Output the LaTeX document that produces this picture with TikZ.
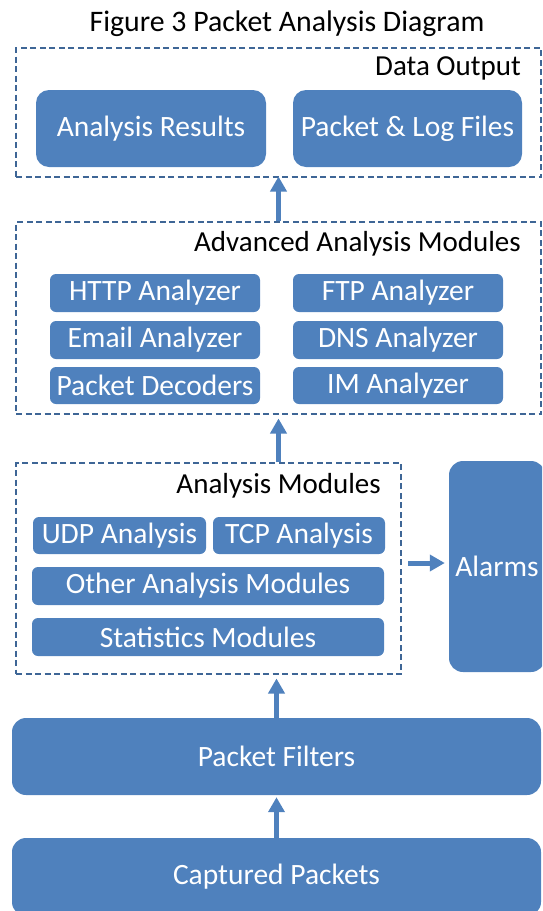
\documentclass[tikz,border=0pt]{standalone}
\usepackage{fontspec}
\setmainfont{Carlito}
\usetikzlibrary{arrows.meta}
\definecolor{boxblue}{HTML}{4F81BD}
\definecolor{frameblue}{HTML}{3E6696}
\tikzset{
  box/.style={fill=boxblue,text=white,inner sep=0pt,font=\fontsize{29.5}{32}\selectfont},
  frame/.style={draw=frameblue,line width=2pt,dash pattern=on 6pt off 3.5pt,inner sep=0pt},
  grouplabel/.style={anchor=base east,inner sep=0pt,font=\fontsize{29}{32}\selectfont},
  uparrow/.style={draw=boxblue,line width=5pt,-{Triangle[width=16pt,length=15pt]}},
}
\def\pbox#1#2#3#4#5#6#7{
  % 1: name
  % 2: x left
  % 3: y top
  % 4: x right
  % 5: y bottom
  % 6: corner radius
  % 7: text
  \node[box,rounded corners=#6,minimum width={(#4-#2)*1pt},minimum height={(#5-#3)*1pt}]
    (#1) at ({(#2+#4)/2},{(#3+#5)/2}) {#7};
}
\def\pgroup#1#2#3#4#5#6#7{
  % 1: name
  % 2: x left
  % 3: y top
  % 4: x right
  % 5: y bottom
  % 6: label baseline
  % 7: label
  \node[frame,minimum width={(#4-#2)*1pt},minimum height={(#5-#3)*1pt}]
    (#1) at ({(#2+#4)/2},{(#3+#5)/2}) {};
  \node[grouplabel] (#1-label) at (#4-20,#6) {#7};
}
\begin{document}
\begin{tikzpicture}[x=1pt,y=-1pt]
    \useasboundingbox (0,0) rectangle (542,911);
    \clip (0,0) rectangle (542,911);
    \node[anchor=base,inner sep=0pt,font=\fontsize{29.8}{32}\selectfont] (title) at (287,31) {Figure 3 Packet Analysis Diagram};

    % \pgroup{name}{x1}{y1}{x2}{y2}{label y}{label}
    \pgroup{output}{16}{48}{541}{177}{75}{Data Output}
    \pgroup{advanced}{16}{222}{541}{414}{251}{Advanced Analysis Modules}
    \pgroup{analysis}{16}{463}{401}{674}{493}{Analysis Modules}

    % \pbox{name}{x1}{y1}{x2}{y2}{r}{text}
    \pbox{results}{36}{90}{266}{167}{13pt}{Analysis Results}
    \pbox{files}{293}{90}{522}{167}{13pt}{Packet \& Log Files}
    \pbox{http}{50}{274}{260}{312}{6pt}{HTTP Analyzer}     \pbox{ftp}{293}{274}{503}{312}{6pt}{FTP Analyzer}
    \pbox{email}{50}{321}{260}{359}{6pt}{Email Analyzer}   \pbox{dns}{293}{321}{503}{359}{6pt}{DNS Analyzer}
    \pbox{decoders}{50}{367}{260}{404}{6pt}{Packet Decoders} \pbox{im}{293}{367}{503}{404}{6pt}{IM Analyzer}
    \pbox{udp}{33}{517}{206}{554}{6pt}{UDP Analysis}        \pbox{tcp}{213}{517}{385}{554}{6pt}{TCP Analysis}
    \pbox{other}{32}{567}{384}{605}{6pt}{Other Analysis Modules}
    \pbox{stats}{32}{618}{384}{656}{6pt}{Statistics Modules}
    \pbox{alarms}{449}{461}{545}{672}{14pt}{Alarms}
    \pbox{filters}{12}{718}{541}{795}{14pt}{Packet Filters}
    \pbox{captured}{12}{838}{541}{916}{14pt}{Captured Packets}

    \draw[uparrow] (advanced.north) -- ([yshift=1.5pt]output.south);
    \draw[uparrow] (advanced.south |- analysis.north) -- ([yshift=-3.5pt]advanced.south);
    \draw[uparrow] (filters.north) -- ([yshift=-3.5pt]filters.north |- analysis.south);
    \draw[uparrow] (captured.north) -- ([yshift=-2pt]filters.south);
    \draw[uparrow,shorten <=6pt,shorten >=4pt] ([yshift=5.5pt]analysis.east) -- ([yshift=5.5pt]analysis.east -| alarms.west);
\end{tikzpicture}
\end{document}
